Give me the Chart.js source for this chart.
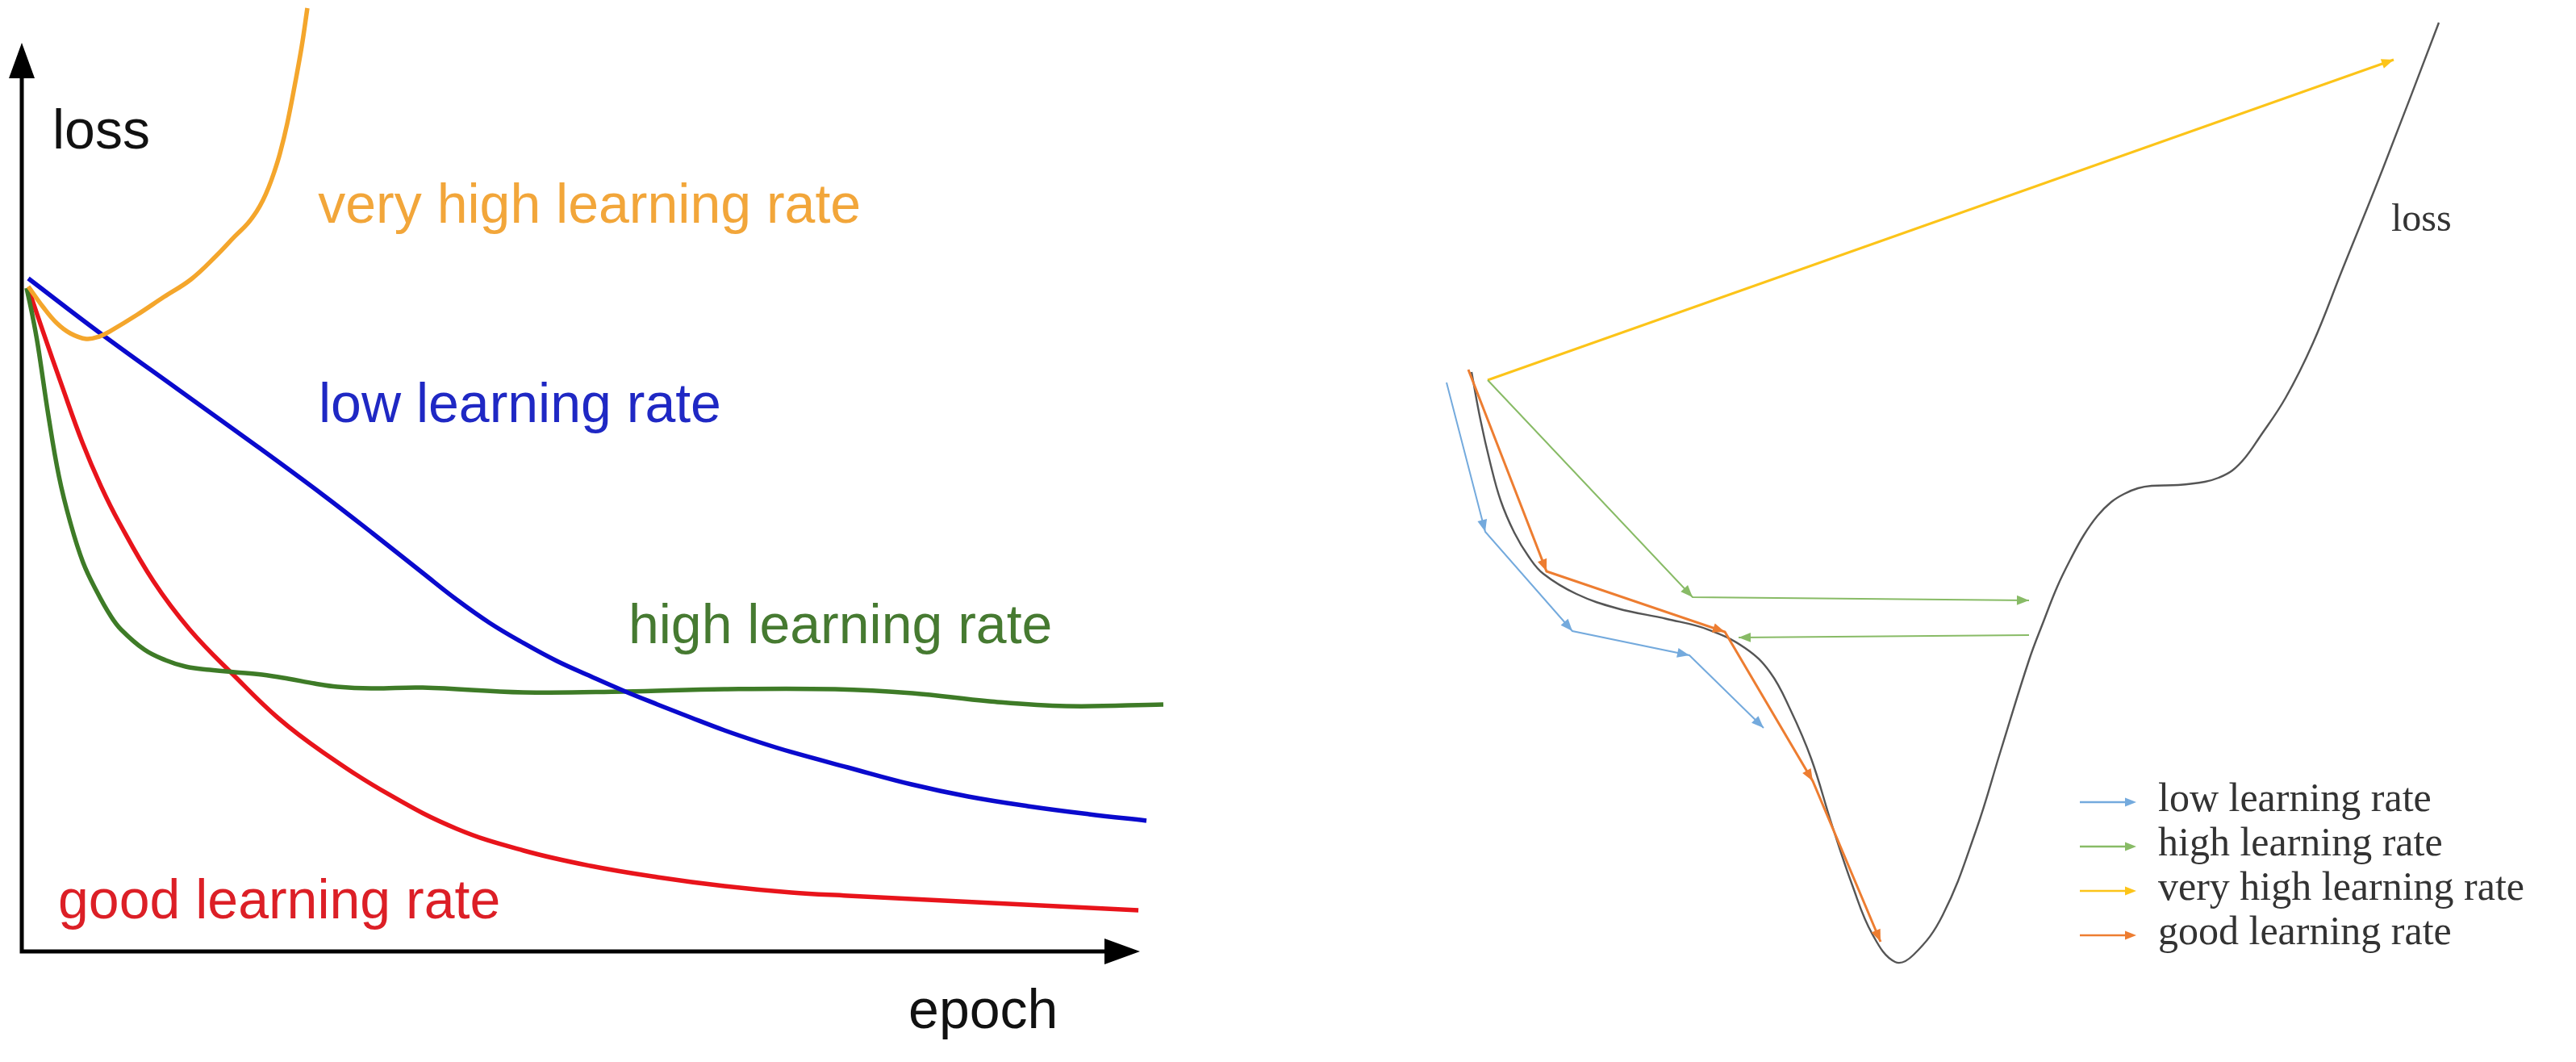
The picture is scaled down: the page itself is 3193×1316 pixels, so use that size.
<!DOCTYPE html>
<html>
<head>
<meta charset="utf-8">
<title>learning rate</title>
<script src="https://cdn.jsdelivr.net/npm/chart.js@4.4.1/dist/chart.umd.min.js"></script>
<style>
  html, body { margin: 0; padding: 0; background: #fff; }
  body { width: 3193px; height: 1316px; position: relative; overflow: hidden; }
  #curves { position: absolute; left: 0; top: 0; }
  #steps { position: absolute; left: 1500px; top: 0; }
</style>
</head>
<body>
<canvas id="curves" width="1500" height="1316"></canvas>
<canvas id="steps" width="1693" height="1316"></canvas>
<script>
// ---- left: loss vs epoch (epoch 0..100 = axis length, loss 0..100 = axis height) ----
const veryHighEpoch = [0.58, 1.88, 3.10, 4.33, 5.77, 6.93, 7.94, 10.32, 12.70, 15.15, 17.39, 19.05, 20.20, 21.00, 21.57, 22.08, 22.58, 23.09, 23.74, 24.46, 25.04, 25.54];
const veryHighLoss  = [73.18, 70.96, 69.18, 68.03, 67.41, 67.67, 68.29, 70.07, 72.02, 73.98, 76.55, 78.69, 80.11, 81.44, 82.68, 84.10, 85.79, 87.83, 91.12, 95.65, 99.64, 103.82];

const lowEpoch = [0.58, 6.93, 13.92, 21.14, 26.91, 31.39, 35.86, 38.89, 41.85, 44.88, 47.84, 50.87, 53.82, 56.85, 59.81, 62.84, 65.80, 68.83, 73.88, 79.58, 84.63, 89.97, 95.45, 100.58];
const lowLoss  = [74.07, 68.12, 61.90, 55.51, 50.27, 46.00, 41.65, 38.72, 36.15, 33.93, 31.97, 30.28, 28.69, 27.18, 25.75, 24.33, 23.09, 21.94, 20.25, 18.38, 17.05, 15.99, 15.10, 14.39];

const highEpoch = [0.43, 0.94, 1.44, 2.38, 3.32, 4.33, 5.48, 6.71, 7.94, 8.87, 10.97, 12.84, 14.65, 16.81, 19.05, 21.50, 23.81, 26.19, 28.21, 31.24, 35.86, 44.88, 53.82, 62.84, 72.73, 79.65, 86.51, 93.43, 102.09];
const highLoss  = [73.00, 70.07, 66.70, 58.97, 52.31, 47.25, 42.81, 39.61, 36.94, 35.44, 33.21, 32.06, 31.35, 30.99, 30.73, 30.46, 30.02, 29.48, 29.13, 28.95, 29.04, 28.51, 28.60, 28.86, 28.86, 28.42, 27.53, 27.00, 27.18];

const goodEpoch = [0.58, 1.88, 3.61, 5.41, 7.07, 8.73, 11.76, 15.01, 19.05, 22.94, 26.91, 32.90, 38.89, 44.88, 50.87, 56.85, 62.84, 68.83, 73.88, 81.02, 89.68, 99.86];
const goodLoss  = [73.00, 68.29, 62.17, 56.04, 51.24, 47.16, 40.76, 35.44, 30.28, 25.67, 21.94, 17.23, 13.50, 11.10, 9.41, 8.17, 7.19, 6.48, 6.13, 5.68, 5.15, 4.53];

// ---- right: loss surface and the steps taken on it ----
const surfaceW    = [2.4, 3.5, 4.7, 6.0, 7.7, 9.5, 11.3, 15.4, 20.5, 26.6, 31.7, 36.3, 39.4, 41.9, 44.5, 47.0, 49.6, 52.1, 54.9, 57.2, 60.8, 64.9, 68.0, 71.5, 73.3, 75.0, 76.7, 78.3, 80.0, 81.7, 83.3, 85.0, 86.7, 90.0, 93.3, 95.0, 96.7, 98.3, 100.0, 103.3, 106.7, 110.3, 115.4, 122.3];
const surfaceLoss = [85.5, 79.6, 74.3, 69.6, 65.6, 62.6, 60.5, 58.0, 56.2, 54.9, 53.6, 51.3, 48.3, 43.7, 37.6, 29.6, 21.9, 15.8, 12.4, 13.3, 18.2, 28.6, 38.6, 49.8, 54.6, 58.9, 62.4, 65.3, 67.7, 69.4, 70.4, 71.1, 71.4, 71.5, 71.9, 72.4, 73.3, 74.9, 77.3, 82.3, 89.1, 98.1, 110.8, 128.8];

const lowStepW       = [-0.7, 4.1, 14.9, 29.4, 38.6];
const lowStepLoss    = [84.2, 65.7, 53.4, 50.4, 41.4];
const highStepW      = [4.4, 29.8, 71.5];
const highStepLoss   = [84.5, 57.6, 57.2];
const highBackW      = [71.5, 35.5];
const highBackLoss   = [52.9, 52.6];
const veryHighStepW    = [4.4, 116.7];
const veryHighStepLoss = [84.5, 124.2];
const goodStepW      = [2.0, 11.7, 33.8, 44.7, 53.1];
const goodStepLoss   = [85.8, 60.8, 53.3, 34.8, 14.9];

function pts(xs, ys) {
    return xs.map((v, i) => ({ x: v, y: ys[i] }));
}

// arrow head with its tip on (x1, y1), pointing away from (x0, y0)
function drawHead(ctx, x0, y0, x1, y1, len, half) {
    const a = Math.atan2(y1 - y0, x1 - x0);
    const bx = x1 - len * Math.cos(a), by = y1 - len * Math.sin(a);
    ctx.beginPath();
    ctx.moveTo(x1, y1);
    ctx.lineTo(bx + half * Math.sin(a), by - half * Math.cos(a));
    ctx.lineTo(bx - half * Math.sin(a), by + half * Math.cos(a));
    ctx.closePath();
    ctx.fill();
}

// free text placed at data coordinates
function textLabels(items) {
    return {
        id: 'textLabels',
        afterDraw(chart) {
            const { ctx, scales: { x, y } } = chart;
            items.forEach(item => {
                ctx.save();
                ctx.font = item.font;
                ctx.fillStyle = item.color;
                ctx.textBaseline = 'alphabetic';
                ctx.fillText(item.text, x.getPixelForValue(item.at[0]), y.getPixelForValue(item.at[1]));
                ctx.restore();
            });
        }
    };
}

document.addEventListener('DOMContentLoaded', function() {

    // ---- LEFT CHART ----
    const sans = '68px "Liberation Sans", Arial, sans-serif';

    // axes with arrow tips at epoch 100 / loss 100
    const axisArrows = {
        id: 'axisArrows',
        beforeDatasetsDraw(chart) {
            const { ctx, scales: { x, y } } = chart;
            const ox = x.getPixelForValue(0), oy = y.getPixelForValue(0);
            const tx = x.getPixelForValue(100), ty = y.getPixelForValue(100);
            ctx.save();
            ctx.strokeStyle = '#000';
            ctx.fillStyle = '#000';
            ctx.lineWidth = 5;
            ctx.lineJoin = 'miter';
            ctx.beginPath();
            ctx.moveTo(ox, ty + 40);
            ctx.lineTo(ox, oy);
            ctx.lineTo(tx - 40, oy);
            ctx.stroke();
            drawHead(ctx, tx - 50, oy, tx, oy, 44, 16);
            drawHead(ctx, ox, ty + 50, ox, ty, 44, 16);
            ctx.restore();
        }
    };

    const leftLabels = textLabels([
        { text: 'loss', at: [2.74, 88.4], color: '#111', font: sans },
        { text: 'very high learning rate', at: [26.5, 80.2], color: '#f2a63a', font: sans },
        { text: 'low learning rate', at: [26.55, 58.3], color: '#1f28c4', font: sans },
        { text: 'high learning rate', at: [54.25, 33.9], color: '#467a31', font: sans },
        { text: 'good learning rate', at: [3.25, 3.6], color: '#dc1f26', font: sans },
        { text: 'epoch', at: [79.3, -8.4], color: '#111', font: sans }
    ]);

    const curveCommon = { borderWidth: 5.5, pointRadius: 0, tension: 0.4, fill: false };

    new Chart(document.getElementById('curves').getContext('2d'), {
        type: 'line',
        data: {
            datasets: [
                Object.assign({ label: 'very high learning rate', data: pts(veryHighEpoch, veryHighLoss), borderColor: '#f4a62c' }, curveCommon),
                Object.assign({ label: 'low learning rate', data: pts(lowEpoch, lowLoss), borderColor: '#0a0acd' }, curveCommon),
                Object.assign({ label: 'high learning rate', data: pts(highEpoch, highLoss), borderColor: '#3e7b27' }, curveCommon),
                Object.assign({ label: 'good learning rate', data: pts(goodEpoch, goodLoss), borderColor: '#e8141b' }, curveCommon)
            ]
        },
        options: {
            responsive: false,
            devicePixelRatio: 1,
            animation: false,
            layout: { padding: { left: 27, right: 17.7, top: 2.33, bottom: 1.9 } },
            scales: {
                x: { type: 'linear', min: 0, max: 105, display: false },
                y: { type: 'linear', min: -12, max: 104.5, display: false }
            },
            plugins: { legend: { display: false }, tooltip: { enabled: false } }
        },
        plugins: [axisArrows, leftLabels]
    });

    // ---- RIGHT CHART ----
    const serif = '"Liberation Serif", "Times New Roman", serif';

    const arrowHeads = {
        id: 'arrowHeads',
        afterDatasetsDraw(chart) {
            const ctx = chart.ctx;
            chart.data.datasets.forEach((ds, i) => {
                if (!ds.arrowHead) return;
                const p = chart.getDatasetMeta(i).data;
                ctx.save();
                ctx.fillStyle = ds.borderColor;
                for (let k = 1; k < p.length; k++) {
                    drawHead(ctx, p[k - 1].x, p[k - 1].y, p[k].x, p[k].y, 15, 6);
                }
                ctx.restore();
            });
        }
    };

    // legend rows: short arrow + label, one per step series
    const arrowLegend = {
        id: 'arrowLegend',
        afterDraw(chart) {
            const ctx = chart.ctx;
            const left = 1078, top = 994, rowGap = 55, lineLen = 70, gap = 27;
            let row = 0;
            chart.data.datasets.forEach(ds => {
                if (!ds.arrowHead || ds.hideInLegend) return;
                const y = top + row * rowGap;
                ctx.save();
                ctx.strokeStyle = ds.borderColor;
                ctx.fillStyle = ds.borderColor;
                ctx.lineWidth = 2.5;
                ctx.beginPath();
                ctx.moveTo(left, y);
                ctx.lineTo(left + lineLen - 6, y);
                ctx.stroke();
                drawHead(ctx, left, y, left + lineLen, y, 14, 5.5);
                ctx.fillStyle = '#333';
                ctx.font = '50px ' + serif;
                ctx.textBaseline = 'alphabetic';
                ctx.fillText(ds.label, left + lineLen + gap, y + 11);
                ctx.restore();
                row++;
            });
        }
    };

    const rightLabels = textLabels([
        { text: 'loss', at: [116.4, 103.0], color: '#333', font: '48px ' + serif }
    ]);

    const stepCommon = { borderWidth: 2, pointRadius: 0, fill: false, arrowHead: true, order: 1 };

    new Chart(document.getElementById('steps').getContext('2d'), {
        type: 'line',
        data: {
            datasets: [
                Object.assign({ label: 'low learning rate', data: pts(lowStepW, lowStepLoss), borderColor: '#74aadd' }, stepCommon),
                Object.assign({ label: 'high learning rate', data: pts(highStepW, highStepLoss), borderColor: '#88bb66' }, stepCommon),
                Object.assign({ label: 'high learning rate', data: pts(highBackW, highBackLoss), borderColor: '#88bb66', hideInLegend: true }, stepCommon),
                Object.assign({ label: 'very high learning rate', data: pts(veryHighStepW, veryHighStepLoss), borderColor: '#fcc419' }, stepCommon, { borderWidth: 3 }),
                Object.assign({ label: 'good learning rate', data: pts(goodStepW, goodStepLoss), borderColor: '#ed7d31' }, stepCommon, { borderWidth: 3 }),
                {
                    label: 'loss',
                    data: pts(surfaceW, surfaceLoss),
                    borderColor: '#555',
                    borderWidth: 2.4,
                    pointRadius: 0,
                    fill: false,
                    tension: 0.4,
                    order: 5
                }
            ]
        },
        options: {
            responsive: false,
            devicePixelRatio: 1,
            animation: false,
            layout: { padding: 0 },
            scales: {
                x: { type: 'linear', min: -30, max: 139.3, display: false },
                y: { type: 'linear', min: 0, max: 131.6, display: false }
            },
            plugins: { legend: { display: false }, tooltip: { enabled: false } }
        },
        plugins: [arrowHeads, arrowLegend, rightLabels]
    });
});
</script>
</body>
</html>
